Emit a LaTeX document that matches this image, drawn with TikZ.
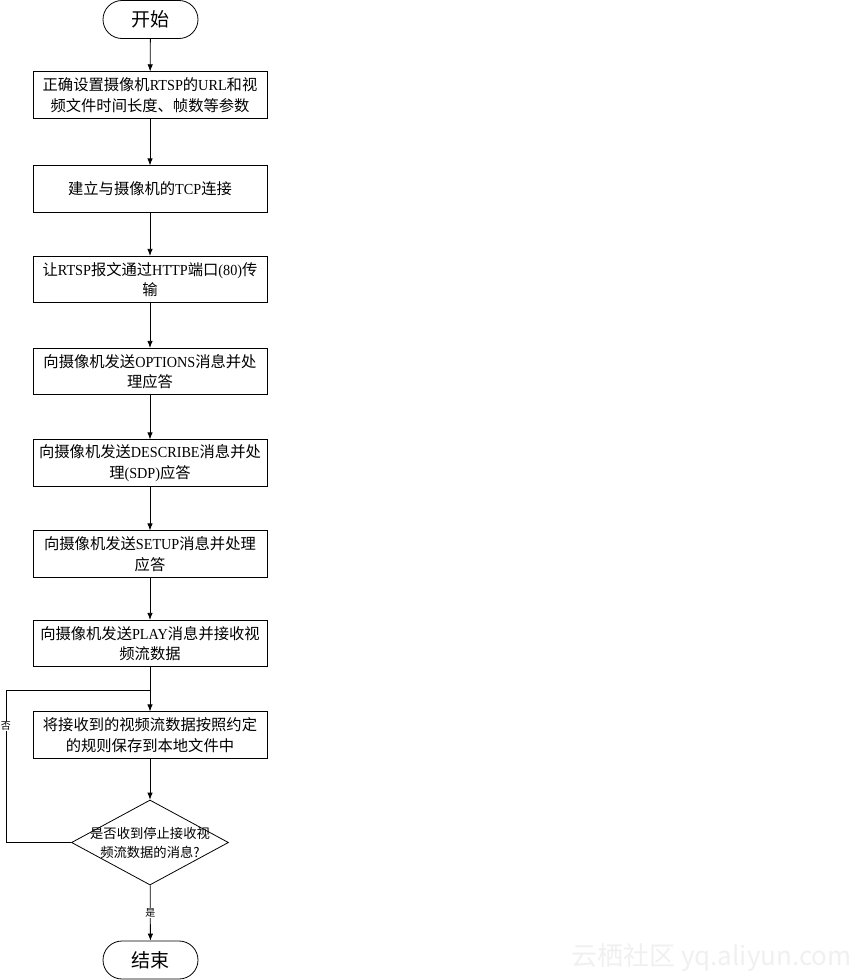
\documentclass[tikz,border=0pt]{standalone}
\usepackage{fontspec}
\setmainfont{Noto Sans CJK SC}
\newfontfamily\latf[FakeStretch=0.93]{Liberation Serif}
\newcommand{\E}[1]{{\latf #1}}
\usetikzlibrary{shapes.geometric,arrows.meta}
\begin{document}
\begin{tikzpicture}[x=1pt,y=-1pt,
  line width=0.8pt,
  proc/.style={draw, minimum width=234pt, minimum height=46.5pt, align=center,
    inner sep=1pt, font=\fontsize{15.3}{20.5}\selectfont},
  term/.style={draw, rectangle, rounded corners=19pt, minimum width=95pt,
    minimum height=38pt, font=\fontsize{19}{22}\selectfont},
  dec/.style={draw, diamond, minimum width=157pt, minimum height=85pt, inner sep=0pt},
  arr/.style={-{Latex[length=7pt,width=5.5pt]}},
  lab/.style={fill=white, inner sep=1pt, font=\fontsize{10}{12}\selectfont}]
\useasboundingbox (0,0) rectangle (864,980);

\node[term] (start) at (150.5,19.5) {开始};
\node[proc] (b1) at (150,95) {正确设置摄像机\E{RTSP}的\E{URL}和视\\频文件时间长度、帧数等参数};
\node[proc] (b2) at (150,189) {建立与摄像机的\E{TCP}连接};
\node[proc] (b3) at (150,279.5) {让\E{RTSP}报文通过\E{HTTP}端口\E{(80)}传\\输};
\node[proc] (b4) at (150,371.5) {向摄像机发送\E{OPTIONS}消息并处\\理应答};
\node[proc] (b5) at (150,463) {向摄像机发送\E{DESCRIBE}消息并处\\理\E{(SDP)}应答};
\node[proc] (b6) at (150,554) {向摄像机发送\E{SETUP}消息并处理\\应答};
\node[proc] (b7) at (150,643.5) {向摄像机发送\E{PLAY}消息并接收视\\频流数据};
\node[proc] (b8) at (150,735) {将接收到的视频流数据按照约定\\的规则保存到本地文件中};
\node[dec] (d) at (150,842.5) {};
\node[align=center, font=\fontsize{13.3}{19}\selectfont] (dt) at (150,842.5) {是否收到停止接收视\\频流数据的消息?};
\node[term] (end) at (150.5,960) {结束};

\coordinate (l1) at (6,842.5);
\coordinate (l2) at (6,690);
\coordinate (mj) at (150,690);

\draw[arr] (start) -- (b1);
\draw[arr] (b1) -- (b2);
\draw[arr] (b2) -- (b3);
\draw[arr] (b3) -- (b4);
\draw[arr] (b4) -- (b5);
\draw[arr] (b5) -- (b6);
\draw[arr] (b6) -- (b7);
\draw[arr] (b7) -- (b8);
\draw[arr] (b8) -- (d);
\draw (d.west) -- (l1) -- (l2) -- (mj);
\draw[arr] (d) -- node[lab] (yes) {是} (end);
\node[lab] (no) at (6,726) {否};

\node[anchor=east, text=gray!12, font=\fontsize{26}{28}\selectfont, inner sep=0pt] (wm) at (852,958) {云栖社区 yq.aliyun.com};
\end{tikzpicture}
\end{document}
